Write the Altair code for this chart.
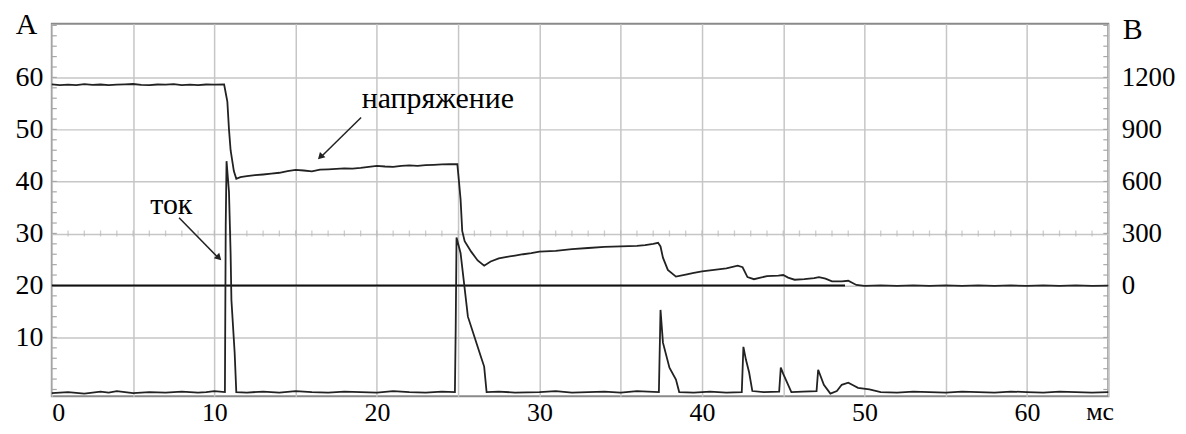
import altair as alt
import pandas as pd

# ---- data ----
# voltage trace (B, volts)
volt_t = [0, 0.5, 1, 1.5, 2, 2.5, 3, 3.5, 4, 4.5, 5, 5.5, 6, 6.5, 7, 7.5, 8, 8.5, 9, 9.5, 10, 10.6,
          10.7, 10.8, 10.9, 11.0, 11.2, 11.35, 11.6, 12, 12.5, 13, 13.5, 14, 14.5, 15, 15.5, 16, 16.5, 17,
          17.5, 18, 18.5, 19, 19.5, 20, 20.5, 21, 21.5, 22, 22.5, 23, 23.5, 24, 24.5, 24.95,
          25.05, 25.15, 25.25, 25.4, 25.8, 26.2, 26.6, 27.0, 27.5, 28, 28.5, 29, 29.5, 30, 31, 32, 33,
          34, 35, 36, 36.5, 37.0, 37.3, 37.45, 37.6, 37.9, 38.4, 39, 39.5, 40, 40.5, 41, 41.5, 42.2,
          42.5, 42.8, 43.2, 43.6, 44, 44.7, 45.0, 45.3, 45.7, 46.3, 46.9, 47.2, 47.6, 48.0, 48.6,
          49.0, 49.5, 50, 51, 52, 53, 54, 55, 56, 57, 58, 59, 60, 61, 62, 63, 64, 65]
volt_v = [1160, 1155, 1158, 1156, 1161, 1157, 1159, 1155, 1158, 1160, 1162, 1157, 1155, 1159, 1158, 1161, 1156, 1158, 1155, 1159, 1158, 1160,
          1110, 1060, 900, 780, 660, 615, 625, 630, 636, 640, 645, 650, 660, 666, 663, 658, 668, 670,
          672, 675, 674, 678, 684, 690, 686, 684, 690, 692, 690, 694, 696, 698, 699, 700,
          600, 495, 315, 255, 195, 144, 114, 138, 156, 165, 172, 180, 186, 195, 200, 210, 216,
          222, 225, 228, 232, 240, 246, 225, 160, 90, 51, 63, 72, 81, 87, 93, 99, 114,
          105, 48, 36, 45, 54, 57, 60, 45, 33, 36, 42, 48, 39, 24, 24, 27,
          3, -3, 0, -3, 0, -2, 1, -3, 0, -2, 0, -3, 1, -2, 0, -3, -1]

# current trace (A, amperes)
cur_t = [0, 1, 2, 3, 3.5, 4, 4.5, 5, 6, 7, 8, 9, 9.5, 10, 10.65,
         10.7, 10.75, 10.9, 11.0, 11.05, 11.25, 11.35,
         12, 13, 14, 15, 16, 17, 18, 19, 20, 21, 22, 23, 24, 24.8,
         24.85, 24.9, 25.15, 25.6, 26.4, 26.6, 26.75,
         27.5, 28.5, 30, 31, 32, 33, 34, 35, 36, 37.35,
         37.45, 37.6, 38.0, 38.4, 38.6,
         39.5, 40.5, 41.5, 42.45,
         42.55, 42.7, 42.9, 43.1,
         43.8, 44.75,
         44.85, 45.0, 45.2, 45.5,
         46.2, 47.05,
         47.15, 47.5, 47.9, 48.3, 48.6, 49.0, 49.3, 49.6, 50.3,
         51, 52, 53, 54, 55, 56, 57, 58, 59, 60, 61, 62, 63, 64, 65]
cur_a = [-0.7, -0.5, -0.8, -0.4, -0.6, -0.3, -0.5, -0.7, -0.5, -0.6, -0.4, -0.6, -0.5, -0.3, -0.5,
         31.6, 43.9, 38.0, 26.2, 17.2, 7.0, -0.5,
         -0.6, -0.4, -0.6, -0.3, -0.5, -0.6, -0.4, -0.5, -0.6, -0.3, -0.5, -0.6, -0.4, -0.5,
         11.9, 29.2, 26.2, 14.0, 6.3, 4.4, -0.5,
         -0.4, -0.6, -0.5, -0.3, -0.6, -0.5, -0.4, -0.6, -0.3, -0.5,
         15.3, 9.0, 4.2, 1.9, -0.5,
         -0.6, -0.4, -0.6, -0.5,
         8.2, 5.8, 3.3, -0.3,
         -0.5, -0.4,
         4.2, 3.0, 1.6, -0.5,
         -0.4, -0.3,
         3.8, 0.9, -0.8, -0.3, 0.9, 1.3, 0.8, 0.3, 0.0,
         -0.5, -0.6, -0.4, -0.5, -0.6, -0.4, -0.5, -0.6, -0.4, -0.5, -0.6, -0.4, -0.5, -0.6, -0.5]

x_grid = [0, 5, 10, 15, 20, 25, 30, 35, 40, 45, 50, 55, 60, 65]
a_ticks = [10, 20, 30, 40, 50, 60]
b_ticks = [0, 300, 600, 900, 1200]
minor_a = [v * 2 for v in range(0, 36)]
center_ticks_ms = list(range(1, 65))
center_level_a = 30
ref_line_ms = [0, 48.8]
ref_level_a = 20

notes = pd.DataFrame({
    "label": ["ток", "напряжение"],
    "t": [7.35, 23.75],
    "a": [35.4, 55.8],
})
arrows = pd.DataFrame({
    "name": ["ток", "ток", "напр", "напр"],
    "t": [7.83, 10.15, 19.03, 16.65],
    "a": [33.0, 25.6, 52.3, 45.0],
    "order": [0, 1, 0, 1],
})
heads = pd.DataFrame({"t": [10.28, 16.52], "a": [25.3, 44.7], "ang": [135, 225]})

FONT = "Liberation Serif"
INK = "#222222"

x_dom = [0, 65]
a_dom = [-1.3, 70.3]
b_dom = [(a_dom[0] - 20) * 30, (a_dom[1] - 20) * 30]

xs = alt.Scale(domain=x_dom, nice=False, zero=False)
ys_a = alt.Scale(domain=a_dom, nice=False, zero=False)
ys_b = alt.Scale(domain=b_dom, nice=False, zero=False)

x_axis = alt.Axis(values=x_grid, grid=True, gridColor="#c6c6c6", gridWidth=1.5,
                  domain=False, ticks=False, labelFont=FONT, labelFontSize=26,
                  labelColor="black", labelPadding=3,
                  labelExpr="datum.value % 10 == 0 && datum.value < 65 ? datum.label : ''",
                  title=None)
a_axis = alt.Axis(values=a_ticks, grid=True, gridColor="#c6c6c6", gridWidth=1.5,
                  domain=False, ticks=False, labelFont=FONT, labelFontSize=28,
                  labelColor="black", labelPadding=9, orient="left",
                  title="A", titleAngle=0, titleX=-26, titleY=1, titleAlign="center",
                  titleBaseline="middle", titleFont=FONT, titleFontSize=30,
                  titleFontWeight="normal", titleColor="black")
b_axis = alt.Axis(values=b_ticks, grid=False, domain=False, ticks=False,
                  labelFont=FONT, labelFontSize=27, labelColor="black", format="d",
                  labelPadding=13, orient="right", labelAlign="left",
                  title="B", titleAngle=0, titleX=24, titleY=6, titleAlign="center",
                  titleBaseline="middle", titleFont=FONT, titleFontSize=30,
                  titleFontWeight="normal", titleColor="black")

cur_df = pd.DataFrame({"t": cur_t, "a": cur_a})
volt_df = pd.DataFrame({"t": volt_t, "v": volt_v})

base_grid = alt.Chart(pd.DataFrame({"t": [0], "a": [0]})).mark_point(opacity=0).encode(
    x=alt.X("t:Q", scale=xs, axis=x_axis),
    y=alt.Y("a:Q", scale=ys_a, axis=a_axis),
)

center_ticks = alt.Chart(pd.DataFrame({"t": center_ticks_ms, "a": [center_level_a] * len(center_ticks_ms)})).mark_tick(
    orient="vertical", size=6, thickness=1.3, color="#b8b8b8"
).encode(x=alt.X("t:Q", scale=xs), y=alt.Y("a:Q", scale=ys_a))

left_minor = alt.Chart(pd.DataFrame({"a": minor_a})).mark_rule(color="#a8a8a8", strokeWidth=1.2).encode(
    y=alt.Y("a:Q", scale=ys_a), x=alt.value(0), x2=alt.value(5))
right_minor = alt.Chart(pd.DataFrame({"a": minor_a})).mark_rule(color="#a8a8a8", strokeWidth=1.2).encode(
    y=alt.Y("a:Q", scale=ys_a), x=alt.value(1056), x2=alt.value(1061))

ref_line = alt.Chart(pd.DataFrame({"t": ref_line_ms, "a": [ref_level_a] * 2})).mark_line(
    color="#111111", strokeWidth=2
).encode(x=alt.X("t:Q", scale=xs), y=alt.Y("a:Q", scale=ys_a))

cur_line = alt.Chart(cur_df).mark_line(color=INK, strokeWidth=1.8).encode(
    x=alt.X("t:Q", scale=xs), y=alt.Y("a:Q", scale=ys_a))

note_text = alt.Chart(notes).mark_text(font=FONT, fontSize=30, color="black",
                                       align="center", baseline="middle").encode(
    x=alt.X("t:Q", scale=xs), y=alt.Y("a:Q", scale=ys_a), text="label:N")

arrow_lines = alt.Chart(arrows).mark_line(color=INK, strokeWidth=1.5).encode(
    x=alt.X("t:Q", scale=xs), y=alt.Y("a:Q", scale=ys_a), detail="name:N", order="order:Q")

arrow_heads = alt.Chart(heads).mark_point(shape="triangle-up", filled=True, size=60,
                                          color=INK, opacity=1).encode(
    x=alt.X("t:Q", scale=xs), y=alt.Y("a:Q", scale=ys_a), angle=alt.Angle("ang:Q", scale=None))

ms_text = alt.Chart(pd.DataFrame({"t": [64.5], "a": [-6.8], "s": ["мс"]})).mark_text(
    font=FONT, fontSize=26, color="black", align="center", baseline="bottom").encode(
    x=alt.X("t:Q", scale=xs), y=alt.Y("a:Q", scale=ys_a), text="s:N")

left_group = alt.layer(base_grid, center_ticks, left_minor, right_minor, ref_line,
                       cur_line, arrow_lines, arrow_heads, note_text, ms_text)

volt_line = alt.Chart(volt_df).mark_line(color=INK, strokeWidth=1.8).encode(
    x=alt.X("t:Q", scale=xs),
    y=alt.Y("v:Q", scale=ys_b, axis=b_axis),
)

chart = alt.layer(left_group, volt_line).resolve_scale(y="independent").properties(
    width=1061, height=374,
    autosize=alt.AutoSizeParams(type="none"),
    padding={"left": 44, "top": 15, "right": 70, "bottom": 29},
    background="white",
).configure_view(stroke="#8a8a8a", strokeWidth=2)

chart.save("out.html", embed_options={"renderer": "svg", "actions": False})
